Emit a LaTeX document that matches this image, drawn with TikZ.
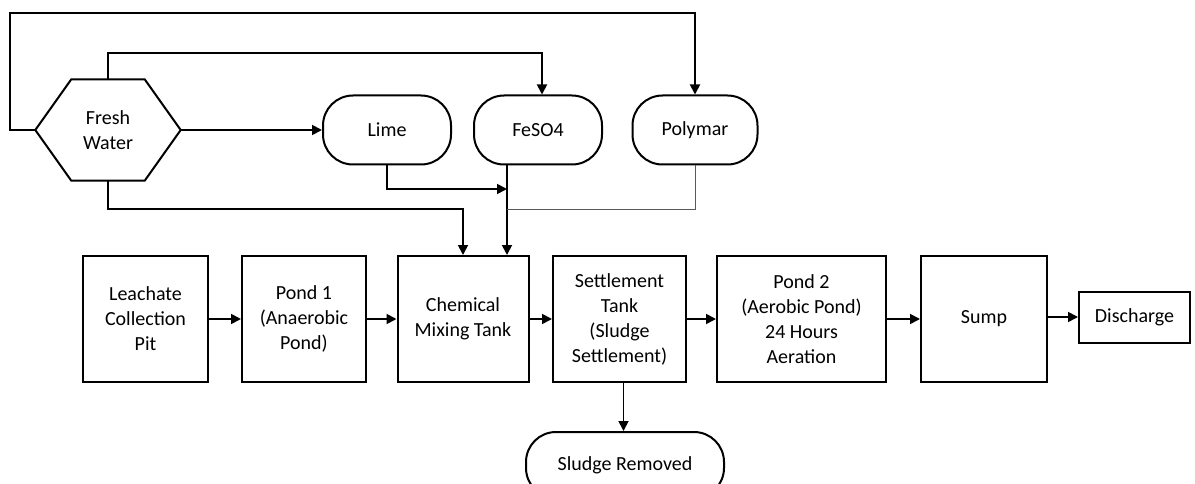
\documentclass[tikz,border=0pt]{standalone}
\usepackage{fontspec}
\setmainfont{Carlito}
\usetikzlibrary{arrows.meta}

\tikzset{
  txt/.style={font=\fontsize{20}{25}\selectfont, align=center, inner sep=0pt},
  tank/.style={txt, draw, line width=2pt, minimum height=126pt},
  drum/.style={txt, draw, line width=2pt, rounded corners=30pt,
               minimum width=128pt, minimum height=69pt},
  flow/.style={line width=1.8pt, -{Triangle[length=10pt,width=10pt]}},
  feed/.style={line width=1pt, draw=black!65},
}

\begin{document}
\begin{tikzpicture}[x=1pt, y=-1pt]
\useasboundingbox (0,0) rectangle (1195,484);

% fresh water source (hexagon drawn around an invisible frame)
\node[txt, minimum width=145pt, minimum height=101pt] (fw) at (108,130) {Fresh\\Water};
\draw[line width=2pt] (fw.west) -- ([xshift=36pt]fw.north west) -- ([xshift=-36pt]fw.north east)
  -- (fw.east) -- ([xshift=-36pt]fw.south east) -- ([xshift=36pt]fw.south west) -- cycle;

% chemical dosing drums
\node[drum] (lime) at (387,130) {Lime};
\node[drum] (fes)  at (538,130) {FeSO4};
\node[drum, minimum width=125pt] (poly) at (695,130) {Polymar};

% treatment train
\node[tank, minimum width=125pt] (leach)  at (145.5,319) {Leachate\\Collection\\Pit};
\node[tank, minimum width=124pt] (pond1)  at (304,319)   {Pond 1\\(Anaerobic\\Pond)};
\node[tank, minimum width=131pt] (chem)   at (463,319)   {Chemical\\Mixing Tank};
\node[tank, minimum width=133pt] (settle) at (619.5,319) {Settlement\\Tank\\(Sludge\\Settlement)};
\node[tank, minimum width=169pt] (pond2)  at (801.5,319) {Pond 2\\(Aerobic Pond)\\24 Hours\\Aeration};
\node[tank, minimum width=126pt] (sump)   at (984,319)   {Sump};
\node[txt, draw, line width=2pt, minimum width=111pt, minimum height=51pt] (disch) at (1134.5,317) {Discharge};
\node[drum, minimum width=198pt, minimum height=66pt] (sludge) at (625,465) {Sludge Removed};

% routing points
\coordinate (loopL)  at (10,13);
\coordinate (fwtop)  at (108,53);
\coordinate (fesin)  at ([xshift=4pt]fes.north);
\coordinate (fesout) at ([xshift=-31pt]fes.south);
\coordinate (limej)  at (507,189);
\coordinate (polyj)  at (507,210);
\coordinate (fwlow)  at (463,209);
\coordinate (sludgeout) at ([xshift=4pt]settle.south);

% fresh water supply lines
\draw[flow] (fw.west) -| (loopL) -| (poly.north);
\draw[flow] (fw.north) -- (fwtop) -| (fesin);
\draw[flow] (fw.east) -- (fw.east -| lime.west);
\draw[flow] (fw.south) |- (fwlow) -- (chem.north);

% chemical feeds to the mixing tank
\draw[flow] (lime.south) |- (limej);
\draw[flow] (fesout) -- (fesout |- chem.north);
\draw[feed] (poly.south) |- (polyj);

% main flow
\draw[flow] (leach.east) -- (pond1.west);
\draw[flow] (pond1.east) -- (chem.west);
\draw[flow] (chem.east) -- (settle.west);
\draw[flow] (settle.east) -- (pond2.west);
\draw[flow] (pond2.east) -- (sump.west);
\draw[flow] (disch.west -| sump.east) -- (disch.west);
\draw[flow] (sludgeout) -- (sludgeout |- sludge.north);
\end{tikzpicture}
\end{document}
